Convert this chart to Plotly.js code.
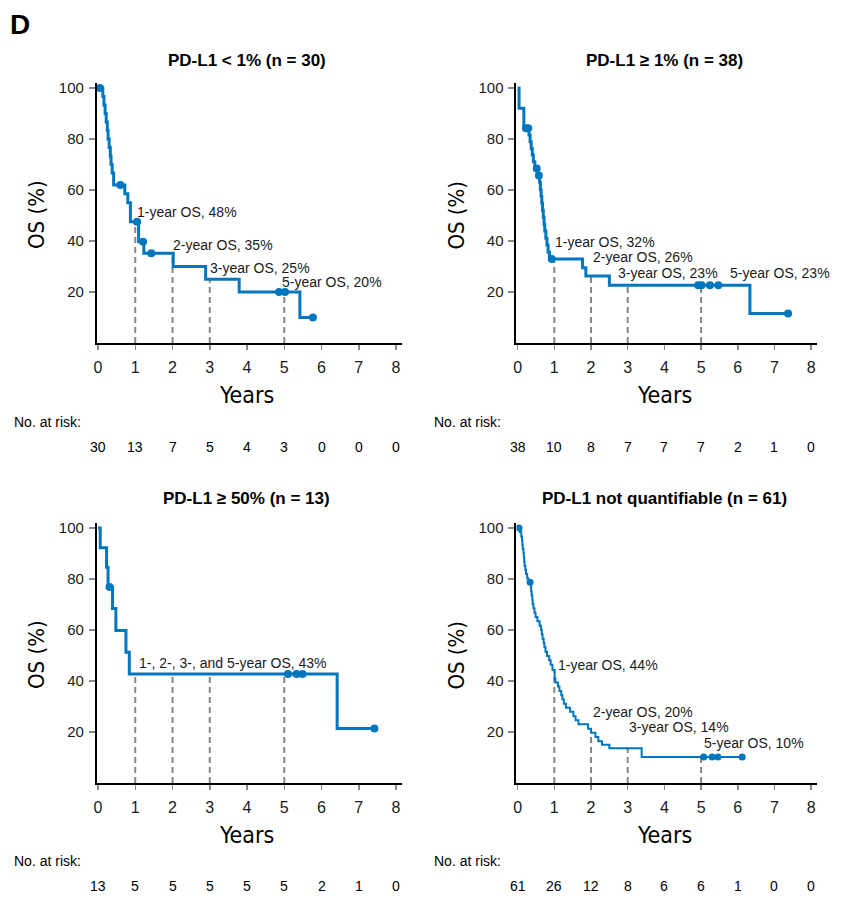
<!DOCTYPE html>
<html>
<head>
<meta charset="utf-8">
<script src="https://cdn.plot.ly/plotly-3.0.1.min.js"></script>
<style>html,body{margin:0;padding:0;background:#fff;}#chart{width:863px;height:902px;}</style>
</head>
<body>
<div id="chart"></div>
<script>
// ---------- DATA ----------
const yearTicks = [0, 1, 2, 3, 4, 5, 6, 7, 8];
const landmarkYears = [1, 2, 3, 5];

// Panel A: PD-L1 < 1%
const p1Title = "PD-L1 < 1% (n = 30)";
const p1Times = [0, 0.13, 0.16, 0.19, 0.22, 0.25, 0.27, 0.30, 0.33, 0.35, 0.38, 0.42, 0.72, 0.80, 0.87, 1.09, 1.23, 2.02, 2.89, 3.79, 5.42, 5.77];
const p1Surv  = [100, 96.7, 93.3, 90, 86.7, 83.3, 80, 76.7, 73.3, 70, 66.7, 62, 58.5, 55, 47.5, 39.7, 35.2, 30, 25, 20, 10, 10];
const p1CensT = [0.05, 0.60, 1.05, 1.21, 1.43, 4.86, 5.02, 5.77];
const p1CensS = [100, 62, 47.5, 39.7, 35.2, 20, 20, 10];
const p1Landmark = [48, 35, 25, 20];
const p1Labels = ["1-year OS, 48%", "2-year OS, 35%", "3-year OS, 25%", "5-year OS, 20%"];
const p1LabelX = [0.99, 1.96, 2.95, 4.89];
const p1LabelY = [51.4, 38.4, 29.4, 24.0];
const p1Risk = [30, 13, 7, 5, 4, 3, 0, 0, 0];

// Panel B: PD-L1 >= 1%
const p2Title = "PD-L1 ≥ 1% (n = 38)";
const p2Times = [0, 0.04, 0.17, 0.31, 0.34, 0.37, 0.40, 0.43, 0.47, 0.55, 0.60, 0.62, 0.64, 0.66, 0.68, 0.70, 0.72, 0.74, 0.77, 0.80, 0.83, 0.87, 1.77, 1.86, 2.50, 6.33, 7.37];
const p2Surv  = [100, 92.1, 84.2, 81.6, 78.9, 76.3, 73.7, 71.1, 68.4, 65.7, 63.0, 60.2, 57.5, 54.8, 52.1, 49.3, 46.6, 43.9, 41.1, 38.4, 35.6, 32.9, 29.5, 26.3, 22.6, 11.6, 11.6];
const p2CensT = [0.23, 0.29, 0.52, 0.58, 0.93, 4.92, 5.01, 5.24, 5.47, 7.37];
const p2CensS = [84.2, 84.2, 68.4, 65.7, 32.9, 22.6, 22.6, 22.6, 22.6, 11.6];
const p2Landmark = [32, 26, 23, 23];
const p2Labels = ["1-year OS, 32%", "2-year OS, 26%", "3-year OS, 23%", "5-year OS, 23%"];
const p2LabelX = [0.97, 1.99, 2.68, 5.72];
const p2LabelY = [39.7, 33.8, 27.6, 27.6];
const p2Risk = [38, 10, 8, 7, 7, 7, 2, 1, 0];

// Panel C: PD-L1 >= 50%
const p3Title = "PD-L1 ≥ 50% (n = 13)";
const p3Times = [0, 0.06, 0.23, 0.27, 0.39, 0.48, 0.75, 0.84, 6.42, 7.42];
const p3Surv  = [100, 92.3, 84.6, 76.9, 68.4, 59.8, 51.3, 42.7, 21.4, 21.4];
const p3CensT = [0.31, 5.10, 5.33, 5.49, 7.42];
const p3CensS = [76.9, 42.7, 42.7, 42.7, 21.4];
const p3Landmark = [43, 43, 43, 43];
const p3Labels = ["1-, 2-, 3-, and 5-year OS, 43%"];
const p3LabelX = [1.05];
const p3LabelY = [46.9];
const p3Risk = [13, 5, 5, 5, 5, 5, 2, 1, 0];

// Panel D: PD-L1 not quantifiable
const p4Title = "PD-L1 not quantifiable (n = 61)";
const p4Times = [0, 0.06, 0.10, 0.12, 0.13, 0.14, 0.16, 0.17, 0.18, 0.19, 0.21, 0.23, 0.26, 0.29, 0.36, 0.37, 0.38, 0.40, 0.41, 0.43, 0.46, 0.49, 0.54, 0.60, 0.64, 0.66, 0.68, 0.71, 0.73, 0.76, 0.80, 0.86, 0.90, 0.95, 1.01, 1.03, 1.10, 1.14, 1.19, 1.22, 1.26, 1.32, 1.43, 1.52, 1.58, 1.66, 1.92, 2.00, 2.12, 2.20, 2.30, 2.50, 3.38, 6.12];
const p4Surv  = [100, 98.4, 96.7, 95.1, 93.4, 91.8, 90.2, 88.5, 86.9, 85.2, 83.6, 82.0, 80.3, 78.7, 77.0, 75.3, 73.6, 71.9, 70.2, 68.5, 66.8, 65.1, 63.4, 61.7, 60.0, 58.3, 56.6, 54.9, 53.2, 51.5, 49.8, 48.1, 46.4, 44.3, 41.0, 39.4, 37.8, 36.1, 34.4, 32.8, 31.1, 29.5, 27.9, 26.2, 24.6, 23.0, 21.3, 19.7, 18.0, 16.4, 15.0, 13.6, 10.2, 10.2];
const p4CensT = [0.04, 0.34, 5.07, 5.30, 5.46, 6.12];
const p4CensS = [100, 78.7, 10.2, 10.2, 10.2, 10.2];
const p4Landmark = [44, 20, 14, 10];
const p4Labels = ["1-year OS, 44%", "2-year OS, 20%", "3-year OS, 14%", "5-year OS, 10%"];
const p4LabelX = [1.05, 1.99, 2.97, 5.02];
const p4LabelY = [46.3, 28.0, 21.8, 15.6];
const p4Risk = [61, 26, 12, 8, 6, 6, 1, 0, 0];

// ---------- LAYOUT GEOMETRY (pixels) ----------
const W = 863, H = 902;
const BLUE = '#0076be';
const TXT = '#1a1a1a';
const FONT = 'Liberation Sans, Arial, Helvetica, sans-serif';
const NARROW = 'DejaVu Sans Condensed, Liberation Sans Narrow, Liberation Sans, Arial, sans-serif';

const panels = [
  {title: p1Title, t: p1Times, s: p1Surv, ct: p1CensT, cs: p1CensS, lm: p1Landmark, lab: p1Labels, lx: p1LabelX, ly: p1LabelY, risk: p1Risk,
   x0: 98, ppx: 37.25, y0: 343, lw: 3, titleY: 60, riskLabelX: 12, riskLabelY: 422, riskY: 447},
  {title: p2Title, t: p2Times, s: p2Surv, ct: p2CensT, cs: p2CensS, lm: p2Landmark, lab: p2Labels, lx: p2LabelX, ly: p2LabelY, risk: p2Risk,
   x0: 517.6, ppx: 36.7, y0: 343, lw: 3, titleY: 60, riskLabelX: 432, riskLabelY: 422, riskY: 447},
  {title: p3Title, t: p3Times, s: p3Surv, ct: p3CensT, cs: p3CensS, lm: p3Landmark, lab: p3Labels, lx: p3LabelX, ly: p3LabelY, risk: p3Risk,
   x0: 98, ppx: 37.25, y0: 783, lw: 3, titleY: 498, riskLabelX: 12, riskLabelY: 861, riskY: 886},
  {title: p4Title, t: p4Times, s: p4Surv, ct: p4CensT, cs: p4CensS, lm: p4Landmark, lab: p4Labels, lx: p4LabelX, ly: p4LabelY, risk: p4Risk,
   x0: 517.6, ppx: 36.7, y0: 783, lw: 2, titleY: 498, riskLabelX: 432, riskLabelY: 861, riskY: 886}
];
const PPY = 2.55; // pixels per percent
const XMIN = -0.03, XMAX = 8.15, YMAX = 102;

const traces = [];
const annotations = [];
const layout = {
  width: W, height: H,
  margin: {l: 0, r: 0, t: 0, b: 0},
  paper_bgcolor: '#fff', plot_bgcolor: '#fff',
  showlegend: false,
  font: {family: FONT, color: TXT},
  annotations: annotations
};

annotations.push({text: '<b>D</b>', xref: 'paper', yref: 'paper', x: 8 / W, y: 1 - 25 / H,
  xanchor: 'left', yanchor: 'middle', showarrow: false, font: {size: 28, color: '#000', family: FONT}});

panels.forEach((p, i) => {
  const k = i === 0 ? '' : String(i + 1);
  const xa = 'x' + k, ya = 'y' + k;
  const left = p.x0 + XMIN * p.ppx, right = p.x0 + XMAX * p.ppx;
  const top = p.y0 - YMAX * PPY;
  layout['xaxis' + k] = {
    domain: [left / W, right / W], range: [XMIN, XMAX], anchor: ya,
    tickvals: yearTicks, ticktext: yearTicks.map(String),
    ticks: 'outside', ticklen: 5, tickwidth: 1.5, tickcolor: '#8a8a8a',
    showline: true, linecolor: '#000', linewidth: 2,
    showgrid: false, zeroline: false, fixedrange: true,
    tickfont: {size: 16, color: TXT, family: FONT}, ticklabelstandoff: 4
  };
  layout['yaxis' + k] = {
    domain: [1 - p.y0 / H, 1 - top / H], range: [0, YMAX], anchor: xa,
    tickvals: [20, 40, 60, 80, 100],
    ticks: 'outside', ticklen: 6, tickwidth: 1.5, tickcolor: '#8a8a8a',
    showline: true, linecolor: '#000', linewidth: 2,
    showgrid: false, zeroline: false, fixedrange: true,
    tickfont: {size: 15, color: TXT, family: FONT}, ticklabelstandoff: 2
  };

  // landmark dashed lines
  landmarkYears.forEach((yr, j) => {
    traces.push({x: [yr, yr], y: [0, p.lm[j]], xaxis: xa, yaxis: ya, mode: 'lines',
      line: {color: '#858585', width: 2, dash: '6px,4px'}, hoverinfo: 'skip'});
  });
  // KM step curve
  traces.push({x: p.t, y: p.s, xaxis: xa, yaxis: ya, mode: 'lines',
    line: {color: BLUE, width: p.lw, shape: 'hv'}, hoverinfo: 'skip'});
  // censor marks
  traces.push({x: p.ct, y: p.cs, xaxis: xa, yaxis: ya, mode: 'markers',
    marker: {color: BLUE, size: p.lw === 3 ? 8 : 7}, hoverinfo: 'skip'});

  // landmark labels
  p.lab.forEach((txt, j) => {
    annotations.push({text: txt, xref: xa, yref: ya, x: p.lx[j], y: p.ly[j],
      xanchor: 'left', yanchor: 'middle', showarrow: false,
      font: {size: 14, color: TXT, family: FONT}});
  });

  // panel title
  annotations.push({text: '<b>' + p.title + '</b>', xref: 'paper', yref: 'paper',
    x: (p.x0 + 4 * p.ppx) / W, y: 1 - p.titleY / H, xanchor: 'center', yanchor: 'middle',
    showarrow: false, font: {size: 17, color: '#000', family: FONT}});
  // axis titles
  annotations.push({text: 'Years', xref: 'paper', yref: 'paper',
    x: (p.x0 + 4 * p.ppx) / W, y: 1 - (p.y0 + 52) / H, xanchor: 'center', yanchor: 'middle',
    showarrow: false, font: {size: 23, color: '#000', family: NARROW}});
  annotations.push({text: 'OS (%)', xref: 'paper', yref: 'paper', textangle: -90,
    x: (p.x0 - 62) / W, y: 1 - (p.y0 - 128) / H, xanchor: 'center', yanchor: 'middle',
    showarrow: false, font: {size: 22, color: '#000', family: NARROW}});
  // number at risk
  annotations.push({text: 'No. at risk:', xref: 'paper', yref: 'paper',
    x: p.riskLabelX / W, y: 1 - p.riskLabelY / H, xanchor: 'left', yanchor: 'middle',
    showarrow: false, font: {size: 14, color: '#000', family: FONT}});
  p.risk.forEach((n, j) => {
    annotations.push({text: String(n), xref: xa, yref: 'paper', x: yearTicks[j], y: 1 - p.riskY / H,
      xanchor: 'center', yanchor: 'middle', showarrow: false,
      font: {size: 14, color: '#000', family: FONT}});
  });
});

Plotly.newPlot('chart', traces, layout, {staticPlot: true, displayModeBar: false});
</script>
</body>
</html>
